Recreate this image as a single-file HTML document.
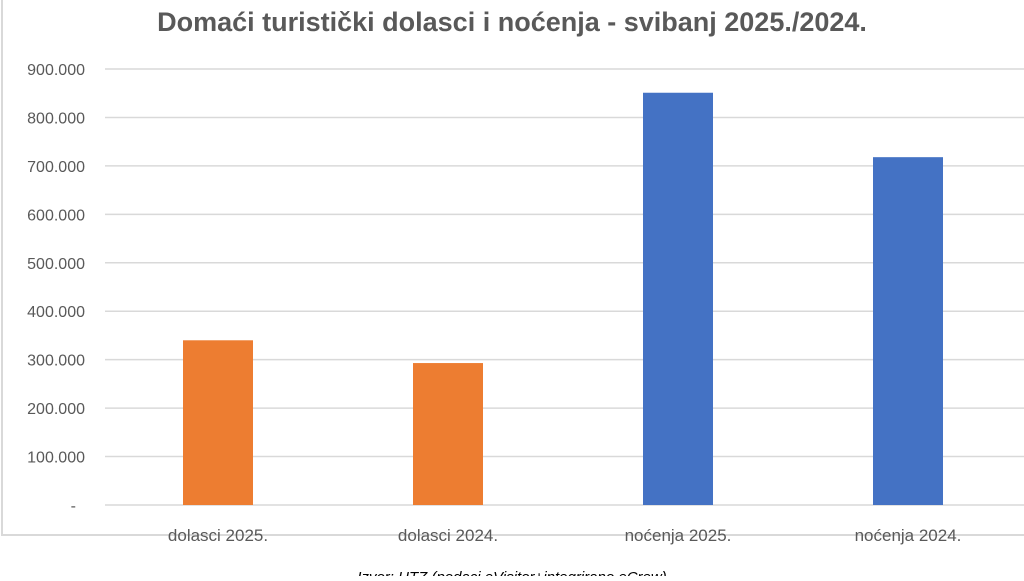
<!DOCTYPE html>
<html><head><meta charset="utf-8"><style>
body{margin:0;background:#fff;width:1024px;height:576px;overflow:hidden;font-family:"Liberation Sans",sans-serif;}
</style></head><body>
<svg width="1024" height="576">
<rect x="2" y="-2" width="1030" height="537" fill="#fff" stroke="#d9d9d9" stroke-width="2"/>
<text x="512" y="31" text-anchor="middle" font-size="27" font-weight="bold" fill="#595959">Domaći turistički dolasci i noćenja - svibanj 2025./2024.</text>
<g id="grid"></g><g id="bars"></g><g id="labels"></g>
<text x="512" y="582" text-anchor="middle" font-size="15" font-style="italic" fill="#000">Izvor: HTZ (podaci eVisitor+integrirano eCrew)</text>
</svg>
<script>
const categories=["dolasci 2025.","dolasci 2024.","noćenja 2025.","noćenja 2024."];
const values=[340000,293000,851000,718000];
const colors=["#ed7d31","#ed7d31","#4472c4","#4472c4"];
const ticks=[0,100000,200000,300000,400000,500000,600000,700000,800000,900000];
const tickLabels=["-","100.000","200.000","300.000","400.000","500.000","600.000","700.000","800.000","900.000"];
const NS="http://www.w3.org/2000/svg";
const y0=505,y1=69,vmax=900000,xL=105,xR=1024;
const ys=v=>y0-(v/vmax)*(y0-y1);
const band=(xR-xL+1)/4; // ~226.5
const xs=i=>xL+band*(i+0.5)-2;
function mk(t,a,p){const e=document.createElementNS(NS,t);for(const k in a)e.setAttribute(k,a[k]);p.appendChild(e);return e;}
const g=document.getElementById('grid');
ticks.forEach((t,i)=>{
 const l=mk('line',{x1:xL,x2:xR,y1:ys(t),y2:ys(t),stroke:'#d9d9d9','stroke-width':1.5},g);
 
 
 const tx=mk('text',{x:t===0?76:85,y:ys(t)+6,'text-anchor':'end','font-size':16,fill:'#595959'},g);
 tx.textContent=tickLabels[i];
 
 
});
const b=document.getElementById('bars'),lb=document.getElementById('labels');
values.forEach((v,i)=>{
 const r=mk('rect',{x:xs(i)-35,y:ys(v),width:70,height:y0-ys(v),fill:colors[i]},b);
 
 
 const t=mk('text',{x:xs(i),y:541,'text-anchor':'middle','font-size':17,fill:'#595959'},lb);
 t.textContent=categories[i];
 
 
});
</script>
</body></html>
